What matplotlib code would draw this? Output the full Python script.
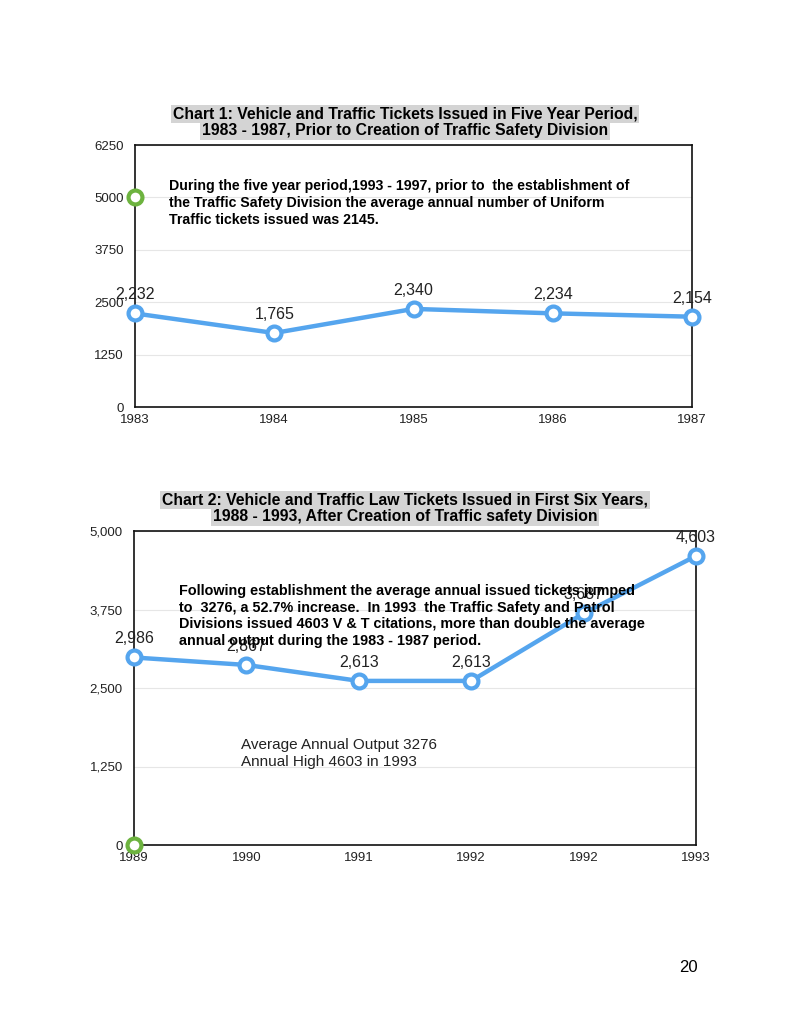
import matplotlib
matplotlib.use('Agg')
from matplotlib import pyplot as plt
from matplotlib.ticker import FuncFormatter

plt.rcParams['font.family'] = ['Liberation Sans', 'DejaVu Sans']

# chart 1 data
years1 = ['1983', '1984', '1985', '1986', '1987']
tickets1 = [2232, 1765, 2340, 2234, 2154]
green1 = 5000
yticks1 = [0, 1250, 2500, 3750, 5000, 6250]

# chart 2 data
years2 = ['1989', '1990', '1991', '1992', '1992', '1993']
tickets2 = [2986, 2867, 2613, 2613, 3687, 4603]
green2 = 0
yticks2 = [0, 1250, 2500, 3750, 5000]

title1 = ["Chart 1: Vehicle and Traffic Tickets Issued in Five Year Period,",
          "1983 - 1987, Prior to Creation of Traffic Safety Division"]
title2 = ["Chart 2: Vehicle and Traffic Law Tickets Issued in First Six Years,",
          "1988 - 1993, After Creation of Traffic safety Division"]
note1 = ("During the five year period,1993 - 1997, prior to  the establishment of\n"
         "the Traffic Safety Division the average annual number of Uniform\n"
         "Traffic tickets issued was 2145.")
note2 = ("Following establishment the average annual issued tickets jumped\n"
         "to  3276, a 52.7% increase.  In 1993  the Traffic Safety and Patrol\n"
         "Divisions issued 4603 V & T citations, more than double the average\n"
         "annual output during the 1983 - 1987 period.")
note3 = "Average Annual Output 3276\nAnnual High 4603 in 1993"

BLUE = '#55a5ee'
GREEN = '#6db33f'
W, H = 791, 1023

fig = plt.figure(figsize=(W / 100, H / 100), dpi=100)


def draw_chart(rect, labels, values, green, yticks, fmt, title, title_y):
    ax = fig.add_axes([rect[0] / W, 1 - rect[3] / H,
                       (rect[2] - rect[0]) / W, (rect[3] - rect[1]) / H])
    xs = list(range(len(labels)))
    ax.plot(xs, values, color=BLUE, lw=3.2, marker='o', ms=10,
            mfc='white', mec=BLUE, mew=3, zorder=3, clip_on=False)
    ax.plot([0], [green], marker='o', ms=10, mfc='white', mec=GREEN,
            mew=3, ls='none', zorder=4, clip_on=False)
    for x, v in zip(xs, values):
        ax.annotate(f'{v:,}', (x, v), xytext=(0, 8), textcoords='offset points',
                    ha='center', va='bottom', fontsize=11.5, color='#222222',
                    zorder=5)
    ax.set_xlim(0, len(labels) - 1)
    ax.set_ylim(yticks[0], yticks[-1])
    ax.set_xticks(xs)
    ax.set_xticklabels(labels)
    ax.set_yticks(yticks)
    ax.yaxis.set_major_formatter(FuncFormatter(fmt))
    ax.tick_params(length=0, labelsize=9.5, colors='#222222')
    ax.tick_params(axis='y', pad=8)
    ax.tick_params(axis='x', pad=5)
    ax.grid(axis='y', color='#e6e6e6', lw=0.8)
    ax.set_axisbelow(True)
    for s in ax.spines.values():
        s.set_color('#111111')
        s.set_linewidth(1.2)
    # title lines, each with its own grey highlight
    for i, line in enumerate(title):
        fig.text(405 / W, 1 - (title_y + i * 17) / H, line, ha='center',
                 va='center', fontsize=11.3, fontweight='bold',
                 bbox=dict(facecolor='#d4d4d4', edgecolor='none', pad=1.2))
    return ax


ax1 = draw_chart((135, 145, 692, 407), years1, tickets1, green1, yticks1,
                 lambda v, p: f'{int(v)}', title1, 114)
ax2 = draw_chart((134, 531, 696, 845), years2, tickets2, green2, yticks2,
                 lambda v, p: f'{int(v):,}', title2, 500)

fig.text(169 / W, 1 - 203 / H, note1, ha='left', va='center', fontsize=10.2,
         fontweight='bold', linespacing=1.28)
fig.text(179 / W, 1 - 616 / H, note2, ha='left', va='center', fontsize=10.4,
         fontweight='bold', linespacing=1.27)
fig.text(241 / W, 1 - 753.5 / H, note3, ha='left', va='center', fontsize=11,
         linespacing=1.3, color='#222222')
fig.text(688 / W, 1 - 968 / H, '20', ha='center', va='center', fontsize=12)

plt.savefig('out.png', dpi=100)
plt.close()
